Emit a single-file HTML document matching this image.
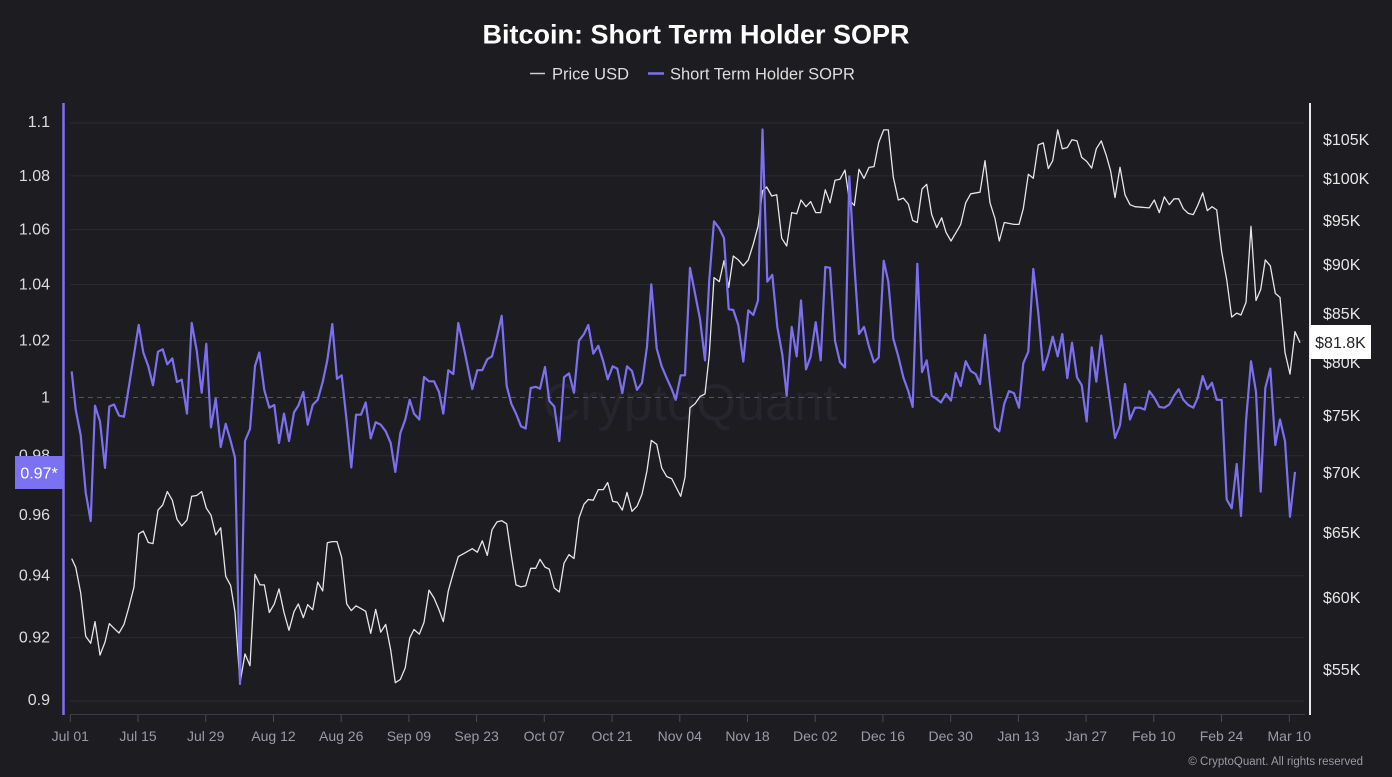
<!DOCTYPE html>
<html><head><meta charset="utf-8"><style>
html,body{margin:0;padding:0;background:#1c1c21;}
body{width:1392px;height:777px;overflow:hidden;font-family:"Liberation Sans",sans-serif;}
</style></head><body>
<svg width="1392" height="777" viewBox="0 0 1392 777" xmlns="http://www.w3.org/2000/svg" style="display:block">
<rect width="1392" height="777" fill="#1c1c21"/>
<!-- title -->
<text x="696" y="43.5" text-anchor="middle" font-family="Liberation Sans, sans-serif" font-weight="bold" font-size="27" fill="#ffffff">Bitcoin: Short Term Holder SOPR</text>
<!-- legend -->
<line x1="530" y1="73.5" x2="545" y2="73.5" stroke="#cfcfcf" stroke-width="1.5"/>
<text x="552" y="79.5" font-family="Liberation Sans, sans-serif" font-size="16.5" fill="#dedede">Price USD</text>
<line x1="648" y1="73.5" x2="664" y2="73.5" stroke="#7c70f0" stroke-width="2.5"/>
<text x="670" y="79.5" font-family="Liberation Sans, sans-serif" font-size="16.5" fill="#dedede">Short Term Holder SOPR</text>

<!-- watermark -->
<text x="690" y="420" text-anchor="middle" font-family="Liberation Sans, sans-serif" font-size="52" fill="#25252b">CryptoQuant</text>

<!-- gridlines -->
<g stroke="#2b2b31" stroke-width="1">
<line x1="70" y1="123" x2="1304" y2="123"/>
<line x1="70" y1="175.9" x2="1304" y2="175.9"/>
<line x1="70" y1="229.7" x2="1304" y2="229.7"/>
<line x1="70" y1="284.6" x2="1304" y2="284.6"/>
<line x1="70" y1="340.5" x2="1304" y2="340.5"/>
<line x1="70" y1="455.7" x2="1304" y2="455.7"/>
<line x1="70" y1="515.1" x2="1304" y2="515.1"/>
<line x1="70" y1="575.8" x2="1304" y2="575.8"/>
<line x1="70" y1="637.7" x2="1304" y2="637.7"/>
<line x1="70" y1="701" x2="1304" y2="701"/>
</g>
<line x1="70" y1="397.5" x2="1304" y2="397.5" stroke="#55555c" stroke-width="1" stroke-dasharray="5,4"/>

<!-- axes -->
<line x1="63.5" y1="103" x2="63.5" y2="715" stroke="#7c70f0" stroke-width="2.5"/>
<line x1="1310" y1="103" x2="1310" y2="715" stroke="#e8e8e8" stroke-width="2"/>
<line x1="70" y1="714.5" x2="1305" y2="714.5" stroke="#3c3c44" stroke-width="1"/>
<g stroke="#4a4a52" stroke-width="1">
<line x1="70.3" y1="715" x2="70.3" y2="722"/><line x1="138" y1="715" x2="138" y2="722"/><line x1="205.7" y1="715" x2="205.7" y2="722"/><line x1="273.5" y1="715" x2="273.5" y2="722"/><line x1="341.2" y1="715" x2="341.2" y2="722"/><line x1="408.9" y1="715" x2="408.9" y2="722"/><line x1="476.6" y1="715" x2="476.6" y2="722"/><line x1="544.3" y1="715" x2="544.3" y2="722"/><line x1="612.1" y1="715" x2="612.1" y2="722"/><line x1="679.8" y1="715" x2="679.8" y2="722"/><line x1="747.5" y1="715" x2="747.5" y2="722"/><line x1="815.2" y1="715" x2="815.2" y2="722"/><line x1="882.9" y1="715" x2="882.9" y2="722"/><line x1="950.7" y1="715" x2="950.7" y2="722"/><line x1="1018.4" y1="715" x2="1018.4" y2="722"/><line x1="1086.1" y1="715" x2="1086.1" y2="722"/><line x1="1153.8" y1="715" x2="1153.8" y2="722"/><line x1="1221.5" y1="715" x2="1221.5" y2="722"/><line x1="1289.3" y1="715" x2="1289.3" y2="722"/>
</g>

<!-- x labels -->
<g font-family="Liberation Sans, sans-serif" font-size="14" fill="#9b9ba2" text-anchor="middle">
<text x="70.3" y="741">Jul 01</text><text x="138" y="741">Jul 15</text><text x="205.7" y="741">Jul 29</text><text x="273.5" y="741">Aug 12</text><text x="341.2" y="741">Aug 26</text><text x="408.9" y="741">Sep 09</text><text x="476.6" y="741">Sep 23</text><text x="544.3" y="741">Oct 07</text><text x="612.1" y="741">Oct 21</text><text x="679.8" y="741">Nov 04</text><text x="747.5" y="741">Nov 18</text><text x="815.2" y="741">Dec 02</text><text x="882.9" y="741">Dec 16</text><text x="950.7" y="741">Dec 30</text><text x="1018.4" y="741">Jan 13</text><text x="1086.1" y="741">Jan 27</text><text x="1153.8" y="741">Feb 10</text><text x="1221.5" y="741">Feb 24</text><text x="1289.3" y="741">Mar 10</text>
</g>

<!-- left labels -->
<g font-family="Liberation Sans, sans-serif" font-size="16" fill="#dcdcdc" text-anchor="end">
<text x="50" y="127">1.1</text>
<text x="50" y="181">1.08</text>
<text x="50" y="234.5">1.06</text>
<text x="50" y="289.5">1.04</text>
<text x="50" y="345.5">1.02</text>
<text x="50" y="402.5">1</text>
<text x="50" y="460.5">0.98</text>
<text x="50" y="520">0.96</text>
<text x="50" y="580.5">0.94</text>
<text x="50" y="642.5">0.92</text>
<text x="50" y="705">0.9</text>
</g>
<rect x="15" y="456" width="48" height="33" fill="#7b72f2"/>
<text x="39" y="478.5" text-anchor="middle" font-family="Liberation Sans, sans-serif" font-size="16" fill="#ffffff">0.97*</text>

<!-- right labels -->
<g font-family="Liberation Sans, sans-serif" font-size="16" fill="#e6e6e6">
<text x="1323" y="145">$105K</text>
<text x="1323" y="184">$100K</text>
<text x="1323" y="226">$95K</text>
<text x="1323" y="270">$90K</text>
<text x="1323" y="319">$85K</text>
<text x="1323" y="368">$80K</text>
<text x="1323" y="421">$75K</text>
<text x="1323" y="478">$70K</text>
<text x="1323" y="538">$65K</text>
<text x="1323" y="603">$60K</text>
<text x="1323" y="675">$55K</text>
</g>

<!-- price line -->
<polyline fill="none" stroke="#e6e6e6" stroke-width="1.3" stroke-linejoin="round" points="71.7,558.6 75.7,567.3 80.7,592.9 85.7,636.2 90.7,643.3 95,621.6 100,655.1 105,642.1 109.3,623.6 114,628.3 119,633 124,624.4 129,606.7 134,587 138.7,533.8 143.3,531.1 148.3,542.5 153,543.6 158,510.1 162.7,505 167.3,491.6 172.3,500.2 177,519.2 181.7,525.9 187,520 191.7,496.3 196.7,495.5 201.7,491.6 206.3,508.1 211,515.2 215.7,534.9 220.7,527.8 225.7,576.3 230.7,585.7 235,612 240,683 245,653.9 250,665.7 255,574.3 260,584.9 264.3,584.9 269.3,612.5 274.3,603.9 279,588.9 284,612.5 289,630.3 294,611.7 298.3,603.9 303.3,617.7 307.7,604.7 312.7,609.8 317.7,582.2 322.7,590.9 327.3,542.8 332.3,541.6 337,541.6 341.7,557.4 346.7,603.9 351.3,610.6 356,605.8 361,608.6 365.7,611.3 370.7,633.4 375.7,609.4 380.7,632.2 385.7,624.4 390.7,650 395.3,682.7 400.3,679.5 405.3,667.7 409.7,638.1 414,629.5 419.3,634.2 424,622.4 429,590.1 434,598 439,609.8 443.3,621.6 448.3,590.9 453.3,573.1 458.3,556.6 464,553.4 472.3,548.7 477.3,552.2 482.3,540.8 487.3,555.4 492,529.8 497,521.9 501.7,520.7 506.7,523.8 511.3,555.4 516,584.9 521,586.9 525.7,585.7 530.7,568.3 535.7,568.3 540,559.3 545,567.1 549.3,569.1 554.3,588 559.3,592 564,563.2 569,554.6 574,558.5 579,518 584,504.2 588.3,499.5 593.3,500.2 598.3,489.6 603.3,489.6 607.7,482.5 612.7,501.4 617.3,502.2 622.3,510.1 627,492.4 632,511.3 637,506.2 642,494.3 647,470.7 651.3,440.4 656.7,444.3 661.7,467.9 666.7,476.6 671.7,478.6 675.7,486.5 680.7,496.3 685,477.4 690,407.7 695,403.7 700,396.6 705,393.9 709.3,354.5 714,277.6 719.3,281.6 724,260.7 728.7,287.5 733.3,256 738.3,259.9 743.3,265.8 748.3,259.9 753.3,244.1 758,226.4 762.5,191 766.7,187 771.7,196 776.7,194.8 781.7,238.2 786.7,246 791.7,212.6 796.7,213.8 801,200 806,206.7 810.7,201.6 815.7,212.6 820.7,212.6 825.3,189.8 830,202.8 835,180.3 840,179.2 845,170.1 849.3,200 854.3,205.5 859,169.3 864,178.4 869,167.4 874,166.6 878.7,142.5 883.7,129.9 888.3,129.9 893.3,177.2 898.3,200 903.3,198.1 908.3,204 912.7,220.5 917.3,222.5 922,189 926.7,184.3 931.7,214.6 936.7,227.6 941.7,217.8 946,232.3 951,241 955.7,233.1 960.7,224.4 965.7,202.8 970.7,193.8 980,192.2 985,160.7 990,202.8 995,218.6 999.3,241 1004.3,222.5 1014,224.4 1019,224.4 1023.3,208.7 1028.3,174.3 1033.3,178.3 1038.3,144.9 1043.3,142.9 1048.3,168.6 1052.7,160.7 1057.7,129.9 1062.3,148.8 1067.3,147.6 1072,139.7 1077,140.9 1081.7,157.4 1086.7,161.4 1091.7,168.1 1096.3,148.8 1101.3,140.9 1106.3,155.5 1110.7,171.3 1115,197.6 1120,167.3 1125,194.8 1130,204.7 1135,206.7 1149.3,207.9 1154.3,200 1159.3,212.6 1164.3,196.9 1169.3,204.7 1174,198.8 1178.7,198.8 1183.3,208.7 1188.3,213.4 1193.3,214.6 1197.7,205.5 1202.7,192.9 1207.3,210.6 1212,206.7 1216.7,209.9 1221.7,252 1226.7,279.6 1231.7,317.1 1236.7,313.1 1241,315 1246,302.4 1251,226.4 1256,300.5 1260.7,289.5 1265.3,259.9 1270.3,265.8 1275.3,293.4 1280,297.4 1285,352.5 1290,374.1 1295,331.6 1300,342.7"/>

<!-- SOPR line -->
<polyline fill="none" stroke="#7c70f0" stroke-width="2.2" stroke-linejoin="round" points="71.7,371.4 75.7,409.6 80.7,435.2 85.7,492.4 90.7,521.1 95,405.7 100,421.4 105,467.9 109.3,406.5 114,404.5 119,415.5 124,416.7 129,386 134,354.5 138.7,324.9 143.3,352.5 148.3,366.3 153,385.2 158,351.7 162.7,349.3 167.3,364.3 172.3,358.4 177,382 181.7,379.7 187,413.6 191.7,322.9 196.7,350.5 201.7,392.7 206.3,343.8 211,427.4 215.7,398.6 220.7,447 225.7,423.8 230.7,441.1 235,457.7 240,684 245,441 250,429 255,366 259.3,352.5 264.3,390 269.3,407.7 274.3,405 279,443 284,413.6 289,441 294,412.4 298.3,405.7 303.3,392 307.7,424.6 312.7,405 317.7,399.8 322.7,382 327.3,360.4 332.3,324 337,378.9 341.7,375.3 346.7,421.4 351.3,467.5 356,414.7 361,414.7 365.7,402.5 370.7,438.4 375.7,422.2 380.7,424.6 385.7,431.3 390.7,443.1 395.3,471.9 400.3,433.3 405.3,419.5 409.7,399.8 414,413.6 419.3,419.5 424,377 429,381.3 434,381.3 439,392 443.3,413.6 448.3,370.2 453.3,374.1 458.3,323 464,348.6 472.3,389.1 477.3,370.2 482.3,370.2 487.3,359.2 492,356.4 497,336.7 501.7,315.8 506.7,386 511.3,403.7 516,413.6 521,426.2 525.7,428.5 530.7,388 535.7,386.8 540,388.7 545,367 549.3,400.9 554.3,406.5 559.3,441.1 564,377.3 569,373.4 574,392.7 579,340.7 584,334 588.3,325 593.3,353.7 598.3,345.8 603.3,361.6 607.7,379.3 612.7,366.3 617.3,368.6 622.3,393.1 627,366.3 632,371 637,389.9 642,382.8 647,346.6 651.3,284.3 656.7,348.5 661.7,366.3 666.7,378.1 671.7,389.1 675.7,399.8 680.7,375.3 685,375.3 690,267.8 695,293.4 700,319 705,360.4 709.3,279.6 714,221.3 719.3,228.4 724,238.2 728.7,309.2 733.3,310 738.3,325 743.3,361.6 748.3,310.3 753.3,315 758,300.5 762.5,129.5 767.3,281.6 772.3,274.9 777.3,326.9 782.3,354.5 786.7,395.8 791.7,326.9 796.7,356.4 801,300.5 806,369.4 810.7,356.4 815.7,322.2 820.7,360.4 825.3,267 830,267.8 835,340.7 840,362.3 845,367.5 849.3,176.4 854.3,263.8 859,334 864,326.9 869,346.6 874,362.3 878.7,357.6 883.7,260.7 888.3,281.6 893.3,338.7 898.3,356.4 903.3,377.3 908.3,391.1 912.7,406.9 917.3,263.8 922,372.1 926.7,360.4 931.7,395.8 935,397.8 941,402.5 946,393.9 951,400.6 955.7,373 960.7,386 965.7,361.2 970.7,371 975.7,374.1 980,384 985,334.8 990,384 995,427.4 999.3,431.3 1004.3,403.7 1009,391.1 1014,393.1 1019,407.7 1023.3,363.2 1028.3,351.7 1033.3,269 1038.3,313.1 1043.3,370.2 1048.3,354.5 1052.7,336.7 1057.7,356.4 1062.3,334 1067.3,378.1 1072,342.7 1077,377.3 1081.7,385.2 1086.7,421.4 1091.7,347.4 1096.3,381.7 1101.3,335.6 1106.3,374.1 1110.5,405 1115,438 1120,425.4 1125,384 1130,419.5 1135,407.7 1140,407.7 1144.7,409.6 1149.3,391.1 1154.3,397.8 1159.3,406.9 1164.3,407.7 1169.3,404.5 1174,395.8 1178.7,389.1 1183.3,399.8 1188.3,405 1193.3,407.7 1197.7,397.8 1202.7,376.1 1207.3,389.1 1212,382.8 1216.7,399.8 1221.7,399.8 1226.7,499.5 1231.7,508.2 1236.7,464 1241,516 1246,421.4 1251,361.2 1256,391.9 1260.7,491.6 1265.3,388 1270.3,368.6 1275.3,445 1280,419.5 1285,441.1 1290,516.8 1295,471.9"/>

<!-- price tag -->
<rect x="1310" y="325" width="61" height="34" fill="#ffffff"/>
<text x="1340.5" y="348" text-anchor="middle" font-family="Liberation Sans, sans-serif" font-size="16" fill="#222228">$81.8K</text>

<!-- copyright -->
<text x="1363" y="765" text-anchor="end" font-family="Liberation Sans, sans-serif" font-size="11.5" fill="#9a9aa0">© CryptoQuant. All rights reserved</text>
</svg>
</body></html>
